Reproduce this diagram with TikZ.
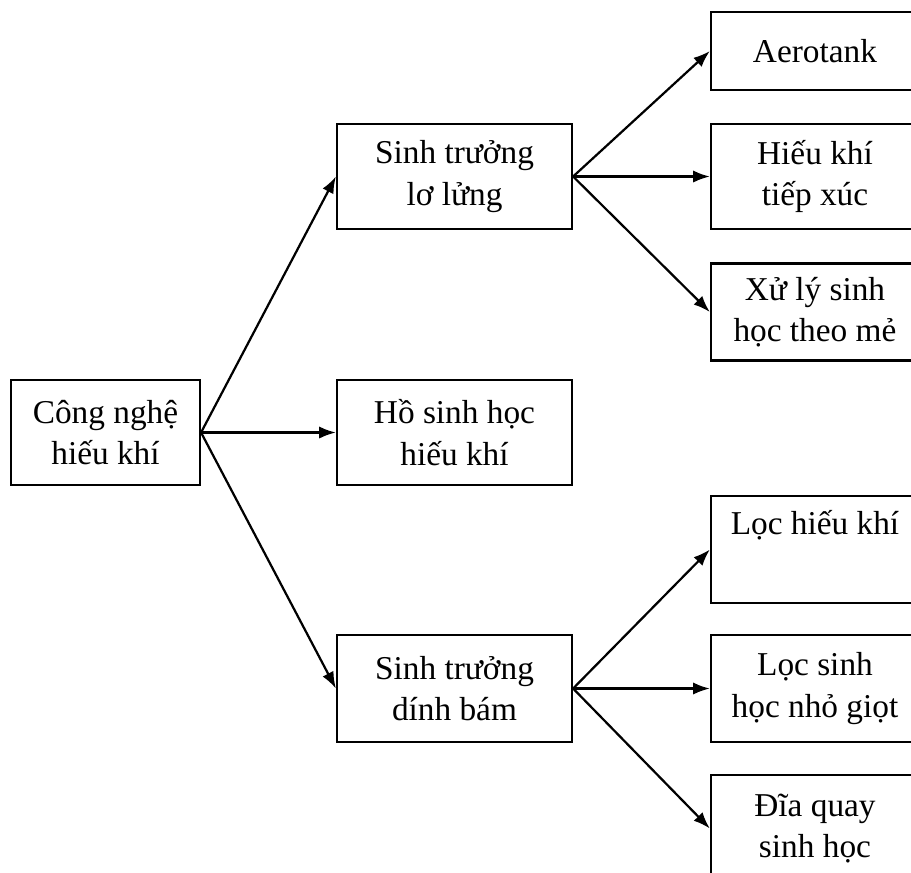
\documentclass[tikz,border=0pt]{standalone}
\usepackage{fontspec}
\setmainfont{Liberation Serif}
\usetikzlibrary{arrows.meta}
\begin{document}
\begin{tikzpicture}[x=0.36pt,y=-0.36pt,
    box/.style={draw,line width=0.8pt,align=center,inner sep=0pt,
      font=\fontsize{12}{15}\selectfont},
    mid/.style={box,minimum width=84.6pt,minimum height=37.8pt},
    leaf/.style={box,minimum width=74.9pt},
    arr/.style={line width=0.8pt,-{Latex[length=6pt,width=4.4pt]}}]

      \useasboundingbox (0,0) rectangle (911,873);

      \node[box,minimum width=68pt,minimum height=37.8pt] (tech) at (105.5,432.5) {Công nghệ\\hiếu khí};
      \node[mid] (suspended) at (454.5,176.5) {Sinh trưởng\\lơ lửng};
      \node[mid] (pond) at (454.5,432.5) {Hồ sinh học\\hiếu khí};
      \node[mid,minimum height=38.5pt] (attached) at (454.5,688.5) {Sinh trưởng\\dính bám};

      \node[leaf,minimum height=28.1pt] (aerotank) at (815,51) {Aerotank};
      \node[leaf,minimum height=37.8pt] (contact) at (815,176.5) {Hiếu khí\\tiếp xúc};
      \node[leaf,minimum height=34.9pt] (batch) at (815,312) {Xử lý sinh\\học theo mẻ};
      \node[leaf,minimum height=38.5pt] (filter) at (815,549.5) {Lọc hiếu khí\\\strut};
      \node[leaf,minimum height=38.5pt] (trickling) at (815,688.5) {Lọc sinh\\học nhỏ giọt};
      \node[leaf,minimum height=38.5pt] (disc) at (815,828.5) {Đĩa quay\\sinh học};

      \draw[arr] (tech.east) -- (suspended.west);
      \draw[arr] (tech.east) -- (pond.west);
      \draw[arr] (tech.east) -- (attached.west);

      \draw[arr] (suspended.east) -- (aerotank.west);
      \draw[arr] (suspended.east) -- (contact.west);
      \draw[arr] (suspended.east) -- (batch.west);

      \draw[arr] (attached.east) -- (filter.west);
      \draw[arr] (attached.east) -- (trickling.west);
      \draw[arr] (attached.east) -- (disc.west);

    \end{tikzpicture}
\end{document}
